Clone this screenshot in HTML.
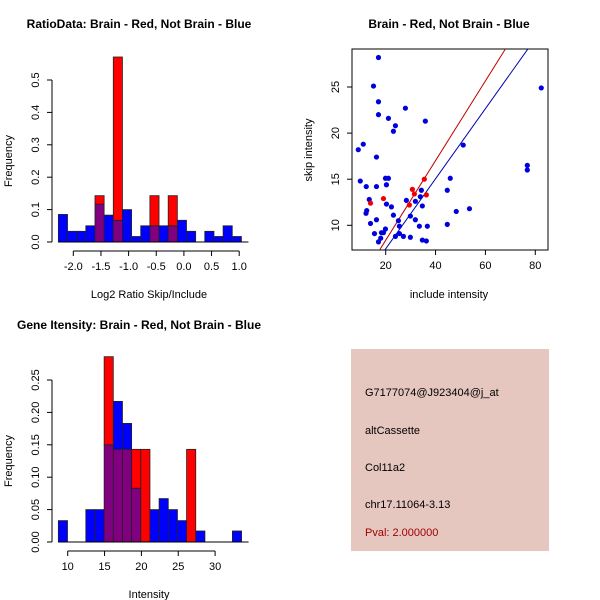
<!DOCTYPE html>
<html><head><meta charset="utf-8"><style>
body{margin:0;background:#fff}
svg{display:block;font-family:"Liberation Sans",sans-serif}
</style></head><body>
<svg id="c" width="600" height="600" viewBox="0 0 600 600">
<text x="139" y="28" font-size="12" font-weight="bold" text-anchor="middle">RatioData: Brain - Red, Not Brain - Blue</text>
<text x="449" y="28" font-size="12" font-weight="bold" text-anchor="middle">Brain - Red, Not Brain - Blue</text>
<text x="139" y="329" font-size="12" font-weight="bold" text-anchor="middle">Gene Itensity: Brain - Red, Not Brain - Blue</text>
<text x="149" y="298" font-size="11" text-anchor="middle">Log2 Ratio Skip/Include</text>
<text x="449" y="298" font-size="11" text-anchor="middle">include intensity</text>
<text x="149" y="598" font-size="11" text-anchor="middle">Intensity</text>
<text transform="translate(12,161) rotate(-90)" font-size="11" text-anchor="middle">Frequency</text>
<text transform="translate(312,150) rotate(-90)" font-size="11" text-anchor="middle">skip intensity</text>
<text transform="translate(12,461) rotate(-90)" font-size="11" text-anchor="middle">Frequency</text>
<g>
<rect x="351" y="349" width="198" height="202" fill="#e6c7c0"/>
<text x="365" y="396" font-size="11">G7177074@J923404@j_at</text>
<text x="365" y="434" font-size="11">altCassette</text>
<text x="365" y="471" font-size="11">Col11a2</text>
<text x="365" y="508" font-size="11">chr17.11064-3.13</text>
<text x="365" y="536" font-size="11" fill="#a00000">Pval: 2.000000</text>
</g>
</svg>
<script>
// Ratio histogram data
const ratioStart = -2.27, ratioWidth = 0.1655;
const ratioBlue = [0.085,0.033,0.033,0.05,0.117,0.083,0.067,0.1,0.017,0.05,0.05,0.05,0.05,0.067,0.033,0,0.033,0.017,0.05,0.017];
const ratioRed  = [0,0,0,0,0.143,0,0.571,0,0,0,0.143,0,0.143,0,0,0,0,0,0,0];
const ratioXTicks = [-2.0,-1.5,-1.0,-0.5,0.0,0.5,1.0];
const ratioYTicks = [0.0,0.1,0.2,0.3,0.4,0.5];
// Intensity histogram data
const intStart = 8.73, intWidth = 1.243;
const intBlue = [0.033,0,0,0.05,0.05,0.15,0.217,0.183,0.083,0,0.05,0.067,0.05,0.033,0,0.017,0,0,0,0.017];
const intRed  = [0,0,0,0,0,0.286,0.143,0.143,0.143,0.143,0,0,0,0,0.143,0,0,0,0,0];
const intXTicks = [10,15,20,25,30];
const intYTicks = [0.00,0.05,0.10,0.15,0.20,0.25];
// Scatter data
const blueX = [9.0,11.0,9.8,15.1,17.1,17.1,17.1,16.3,12.2,16.3,13.4,12.4,12.1,13.9,16.3,15.5,17.1,18.0,18.3,19.1,19.9,19.9,21.1,20.3,20.3,21.1,23.9,23.1,22.3,23.1,25.1,25.5,23.9,25.5,27.1,27.9,28.3,29.9,29.9,31.9,31.9,33.5,33.9,34.3,34.7,34.7,36.3,36.7,35.9,44.7,45.9,44.7,48.3,51.1,53.6,76.8,76.8,82.4];
const blueY = [18.2,18.8,14.8,25.1,28.2,23.4,22.0,17.4,14.2,14.2,12.8,11.6,11.3,10.2,10.6,9.1,8.2,8.6,9.2,9.2,9.6,15.1,15.1,14.4,12.3,21.6,20.8,20.2,12.0,11.1,10.5,9.9,8.8,9.1,8.8,22.7,12.7,8.7,11.0,12.6,10.6,9.9,13.1,13.8,12.1,8.4,8.3,9.9,21.3,13.8,15.1,10.1,11.5,18.7,11.8,16.5,16.0,24.9];
const redX = [13.9,19.1,30.7,31.5,29.5,35.5,36.3];
const redY = [12.4,12.9,13.9,13.4,12.2,15.0,13.3];
const redFit = [-0.26,0.432];
const blueFit = [-0.15,0.380];
const scXTicks = [20,40,60,80];
const scYTicks = [10,15,20,25];

const svg = document.getElementById('c');
const NS = 'http://www.w3.org/2000/svg';
function mk(tag, attrs){const e=document.createElementNS(NS,tag);for(const k in attrs)e.setAttribute(k,attrs[k]);svg.appendChild(e);return e;}

function hist(prefix, start, width, blue, red, xt, yt, xs, ys, yAxisX, xAxisY, decimals){
  blue.forEach((b,i)=>{
    const r = red[i];
    const xa = xs(start+i*width), xb = xs(start+(i+1)*width);
    const m = Math.min(b,r), top = Math.max(b,r);
    if(top<=0) return;
    const hiCol = b>r ? '#0000ff' : '#ff0000';
    if(m>0){
      const p = mk('rect',{x:xa,y:ys(m),width:xb-xa,height:ys(0)-ys(m),fill:'#800080',stroke:'#222',"stroke-width":0.8});
      
      
    }
    if(top>m){
      const e = mk('rect',{x:xa,y:ys(top),width:xb-xa,height:ys(m)-ys(top),fill:hiCol,stroke:'#222',"stroke-width":0.8});
      
      
    }
  });
  const base = mk('line',{x1:xs(start),x2:xs(start+blue.length*width)+7,y1:ys(0),y2:ys(0),stroke:'#000'});
  
  
  const ya = mk('line',{x1:yAxisX,x2:yAxisX,y1:ys(yt[0]),y2:ys(yt[yt.length-1]),stroke:'#000'});
  
  
  yt.forEach(v=>{
    mk('line',{x1:yAxisX-5,x2:yAxisX,y1:ys(v),y2:ys(v),stroke:'#000'});
    const t = mk('text',{transform:`translate(${yAxisX-13},${ys(v)}) rotate(-90)`,"font-size":11,"text-anchor":"middle"});
    t.textContent = v.toFixed(decimals);
    
    
  });
  const xa2 = mk('line',{x1:xs(xt[0]),x2:xs(xt[xt.length-1]),y1:xAxisY,y2:xAxisY,stroke:'#000'});
  
  
  xt.forEach(v=>{
    mk('line',{x1:xs(v),x2:xs(v),y1:xAxisY,y2:xAxisY+5,stroke:'#000'});
    const t = mk('text',{x:xs(v),y:xAxisY+19,"font-size":11,"text-anchor":"middle"});
    t.textContent = (prefix==='ratio') ? v.toFixed(1) : String(v);
    
    
  });
}
const rxs = v => 73.3 + (v+2)*55.3;
const rys = v => 242 - v*324;
hist('ratio', ratioStart, ratioWidth, ratioBlue, ratioRed, ratioXTicks, ratioYTicks, rxs, rys, 52, 251, 1);
const ixs = v => 67.7 + (v-10)*7.37;
const iys = v => 542 - v*648;
hist('intensity', intStart, intWidth, intBlue, intRed, intXTicks, intYTicks, ixs, iys, 52, 551, 2);

const sx = v => 385.7 + (v-20)*2.493;
const sy = v => 225.3 - (v-10)*9.22;
const L=352,R=548,T=49,B=250;
const box = mk('rect',{x:L,y:T,width:R-L,height:B-T,fill:'none',stroke:'#000'});


const defs = mk('clipPath',{id:'sc'}); const cr=document.createElementNS(NS,'rect');
cr.setAttribute('x',L);cr.setAttribute('y',T);cr.setAttribute('width',R-L);cr.setAttribute('height',B-T);defs.appendChild(cr);
function fit(f,col,name){
  const x1=0,x2=100;
  const l = mk('line',{x1:sx(x1),y1:sy(f[0]+f[1]*x1),x2:sx(x2),y2:sy(f[0]+f[1]*x2),stroke:col,"clip-path":"url(#sc)"});
  
  
}
fit(redFit,'#c00000','red-fit-line');
fit(blueFit,'#0000b0','blue-fit-line');
blueX.forEach((x,i)=>{
  const c = mk('circle',{cx:sx(x),cy:sy(blueY[i]),r:2.6,fill:'#0000dd'});
  
  
});
redX.forEach((x,i)=>{
  const c = mk('circle',{cx:sx(x),cy:sy(redY[i]),r:2.6,fill:'#ee0000'});
  
  
});
scXTicks.forEach(v=>{
  mk('line',{x1:sx(v),x2:sx(v),y1:B,y2:B+5,stroke:'#000'});
  const t = mk('text',{x:sx(v),y:B+19,"font-size":11,"text-anchor":"middle"});
  t.textContent = v;
  
  
});
scYTicks.forEach(v=>{
  mk('line',{x1:L-5,x2:L,y1:sy(v),y2:sy(v),stroke:'#000'});
  const t = mk('text',{transform:`translate(${L-13},${sy(v)}) rotate(-90)`,"font-size":11,"text-anchor":"middle"});
  t.textContent = v;
  
  
});
</script>
</body></html>
